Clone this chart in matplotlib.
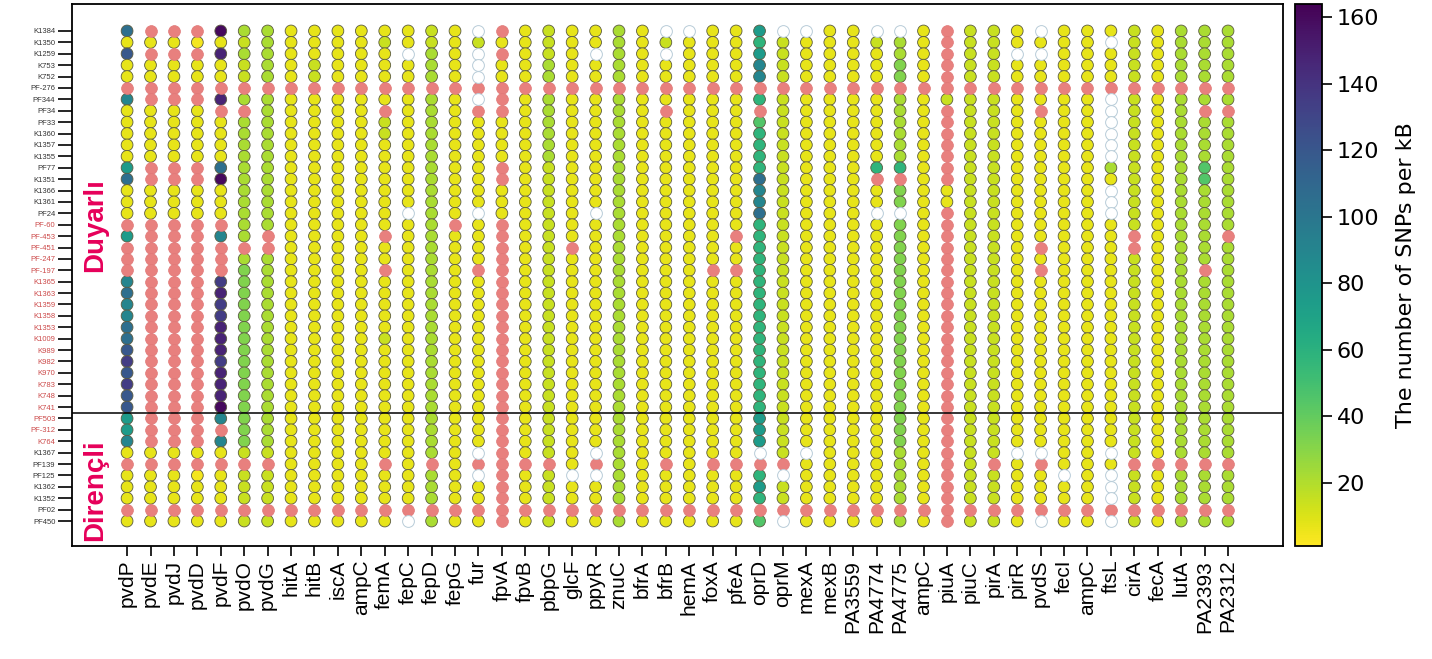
import matplotlib.pyplot as plt
import numpy as np

# strains (rows, top to bottom)
strains = ['K1384', 'K1350', 'K1259', 'K753', 'K752', 'PF-276', 'PF344', 'PF34', 'PF33',
           'K1360', 'K1357', 'K1355', 'PF77', 'K1351', 'K1366', 'K1361', 'PF24',
           'PF-60', 'PF-453', 'PF-451', 'PF-247', 'PF-197', 'K1365', 'K1363', 'K1359',
           'K1358', 'K1353', 'K1009', 'K989', 'K982', 'K970', 'K783', 'K748', 'K741',
           'PF503', 'PF-312', 'K764', 'K1367', 'PF139', 'PF125', 'K1362', 'K1352',
           'PF02', 'PF450']
# strains whose labels are drawn in red
red_strains = strains[17:37]

# genes (columns, left to right)
genes = ['pvdP', 'pvdE', 'pvdJ', 'pvdD', 'pvdF', 'pvdO', 'pvdG', 'hitA', 'hitB', 'iscA',
         'ampC', 'femA', 'fepC', 'fepD', 'fepG', 'fur', 'fpvA', 'fpvB', 'pbpG', 'glcF',
         'ppyR', 'znuC', 'bfrA', 'bfrB', 'hemA', 'foxA', 'pfeA', 'oprD', 'oprM', 'mexA',
         'mexB', 'PA3559', 'PA4774', 'PA4775', 'ampC', 'piuA', 'piuC', 'pirA', 'pirR',
         'pvdS', 'fecI', 'ampC', 'ftsL', 'cirA', 'fecA', 'lutA', 'PA2393', 'PA2312']

# SNPs per kB, one letter per strain; P = gene absent, W = no data
levels = {'a': 4, 'b': 7, 'c': 15, 'd': 22, 'e': 32, 'f': 45, 'g': 58,
          'h': 75, 'i': 90, 'j': 105, 'k': 120, 'l': 135, 'm': 148, 'n': 160}

snp_codes = [
    "jbkbb Pibbb bbhjb bbPhP PPiji ijjkl klkkh hibPb bbPb",   # pvdP
    "PbPbb PPbbb bbPPb bbPPP PPPPP PPPPP PPPPP PPbPb bbPb",   # pvdE
    "PbPbb PPbbb bbPPb bbPPP PPPPP PPPPP PPPPP PPbPb bbPb",   # pvdJ
    "PaPbb PPbbb bbPPb bbPPP PPPPP PPPPP PPPPP PPbPa bbPb",   # pvdD
    "nbmbb PmPbb bbjnb bbPiP PPlml lmmml mmmni PibPb bbPb",   # pvdF
    "dcdcc PdPdd ddddd ddddP deeee eeeee eeeee eecPc ccPc",   # pvdO
    "ddddd Pdddd ddddd dddPP ddddd ddddd ddddd ddcPc ccPc",   # pvdG
    "bbbbb Pbbbb bbbbb bbbbb bbbbb bbbbb bbbbb bbbbb bbPb",   # hitA
    "bbbcc Pbbbb bbbbb bbbbb bbbbb bbbbb bbbbb bbbbb bbPb",   # hitB
    "bbbbb Pbbbb bbbbb bbbbb bbbbb bbbbb bbbbb bbbbb bbPb",   # iscA
    "bbbbb Pbbbb bbbbb bbbbb bbbbb bbbbb bbbbb bbbbb bbPb",   # ampC
    "bcbbb PbPcc bbbbb bbbPb bPbbb bbcbb bbbbb bbbPb bbPb",   # femA
    "bbWbb Pbbbb bbbbb bWbbb bbbbb bbbbb bbbbb bbbbb bbPW",   # fepC
    "ccddd Pdddd ddddd ddddd ddddd ddddd ddddd dddPd ddPd",   # fepD
    "bbbbb Pbbbb bbbbb bbPbb bbbbb bbbbb bbbbb bbbbb bbPb",   # fepG
    "WcWWW PWPbb bbbbb bWbbb bPbbb bbbbb bbbbb bbWPW bbPb",   # fur
    "PbPbb PPPbb bbPPb bbPPP PPPPP PPPPP PPPPP PPPPP PPPP",   # fpvA
    "bbbbb Pbbbb bbbbb bbbbb bbbbb bbbbb bbbbb bbbPb bbPb",   # fpvB
    "cccdd Pdddd ddccc ccccc ccccc ccccc ccccc cccPc ccPc",   # pbpG
    "bbbbb Pbbbb bbbbb bbbbP bbbbb bbbbb bbbbb bbbbW bbPb",   # glcF
    "bbWbb Pbbbb bbbbb bWbbb bbbbb bbbbb bbbbb bbWPW bbPb",   # ppyR
    "ddddd Pdddd ddddd ddddd ddddd ddddd ddddd ddddd ddPd",   # znuC
    "bbbbb Pbbbb bbbbb bbbbb bbbbb bbbbb bbbbb bbbbb bbPb",   # bfrA
    "WcWbb PbPbb bbbbb bbbbb bbbbb bbbbb bbbbb bbbPb bbPb",   # bfrB
    "Wbbbb Pbbbb bbbbb bbbbb bbbbb bbbbb bbbbb bbbbb bbPb",   # hemA
    "bbbbb Pbbbb bbbbb bbbbb bPbbb bbbbb bbbbb bbbPb bbPb",   # foxA
    "bbbbb Pbbbb bbbbb bbbPb bPbbb bbbbb bbbbb bbbPb bbPb",   # pfeA
    "hghii PgPfg gggji ijggg ggggg ggggg ggggh hhWPg hgPf",   # oprD
    "Wcccc Pcccc ccccc ccccc ccccc ccccc ccccc cccPW ccPW",   # oprM
    "Wbbbb Pbbbb bbbbb bbbbb bbbbb bbbbb bbbbb bbWbb bbPb",   # mexA
    "bbbbb Pbbbb bbbbb bbbbb bbbbb bbbbb bbbbb bbbbb bbPb",   # mexB
    "bbbbb Pbbbb bbbbb bbbbb bbbbb bbbbb bbbbb bbbbb bbPb",   # PA3559
    "Wcbbb Pbbbb bbgPb bWbbb bbbbb bbbbb bbbbb bbbbb bbPb",   # PA4774
    "Wddee Pdddd ddgPe eWeee eeeee eeeee eeeee eeddd ddPd",   # PA4775
    "bbbbb Pbbbb bbbbb bbbbb bbbbb bbbbb bbbbb bbbbb bbPb",   # ampC
    "PPPPP PcPPP PPPPb bPPPP PPPPP PPPPP PPPPP PPPPP PPPP",   # piuA
    "ccccc Pcccc ccccc ccccc ccccc ccccc ccccc ccccc ccPc",   # piuC
    "ccccc Pcccc ccccc ccccc ccccc ccccc ccccc cccPc ccPc",   # pirA
    "bbWbb Pbbbb bbbbb bbbbb bbbbb bbbbb bbbbb bbWbb bbPb",   # pirR
    "WbWbb PbPbb bbbbb bbbbP bPbbb bbbbb bbbbb bbWPb bbPW",   # pvdS
    "bbbbb Pbbbb bbbbb bbbbb bbbbb bbbbb bbbbb bbbbW bbPb",   # fecI
    "bbbbb Pbbbb bbbbb bbbbb bbbbb bbbbb bbbbb bbbbb bbPb",   # ampC
    "bWbbb PWWWW WWdbW WWbbb bbbbb bbbbb bbbbb bbWbW WWPW",   # ftsL
    "ccccc Pcccc ccccc cccPP ccccc ccccc ccccc cccPc ccPc",   # cirA
    "bbbbb Pbbbb bbbbb bbbbb bbbbb bbbbb bbbbb bbbPb bbPb",   # fecA
    "ddddd Pdddd ddddd ddddd ddddd ddddd ddddd dddPd ddPd",   # lutA
    "ddddd PdPdd ddffd ddddd dPddd ddddd ddddd dddPd ddPd",   # PA2393
    "ddddd PdPdd ddddd dddPd ddddd ddddd ddddd dddPd ddPd",   # PA2312
]

# split the codes into measured / absent / empty cells
vx, vy, vc = [], [], []
px, py = [], []
wx, wy = [], []
for j, code in enumerate(snp_codes):
    code = code.replace(' ', '')
    assert len(code) == len(strains), (genes[j], len(code))
    for i, ch in enumerate(code):
        if ch == 'P':
            px.append(j); py.append(i)
        elif ch == 'W':
            wx.append(j); wy.append(i)
        else:
            vx.append(j); vy.append(i); vc.append(levels[ch])

fig = plt.figure(figsize=(14.32, 6.59), dpi=100)
ax = fig.add_axes([0.0503, 0.1715, 0.8457, 0.8225])
cax = fig.add_axes([0.9043, 0.1715, 0.0189, 0.8225])

ms = 72
sc = ax.scatter(vx, vy, c=vc, cmap='viridis_r', vmin=1, vmax=164, s=ms,
                edgecolors='#5a5a40', linewidths=0.6, zorder=3)
ax.scatter(px, py, s=ms, color='#e8807e', edgecolors='#e07878', linewidths=0.5, zorder=3)
ax.scatter(wx, wy, s=ms, color='white', edgecolors='#b8ccd8', linewidths=0.7, zorder=3)

# border between the two groups
ax.axhline(33.5, color='black', lw=1.1, zorder=4)

ax.set_xlim(-2.35, len(genes) - 1 + 2.35)
ax.set_ylim(len(strains) - 1 + 2.19, -2.37)

ax.set_xticks(range(len(genes)))
ax.set_xticklabels(genes, rotation=90, fontsize=15, family='Liberation Sans')
ax.set_yticks(range(len(strains)))
ax.set_yticklabels(strains, fontsize=5.5, family='Liberation Sans')
for lab in ax.get_yticklabels():
    lab.set_color('#cc4a4a' if lab.get_text() in red_strains else '#333333')
ax.tick_params(axis='x', length=7, width=1.2, pad=3)
ax.tick_params(axis='y', length=10, width=1.2, pad=2)
for sp in ax.spines.values():
    sp.set_linewidth(1.3)

ax.text(-1.37, 17.0, 'Duyarlı', rotation=90, ha='center', va='center', fontsize=20,
        fontweight='bold', color='#e6005a', family='Liberation Sans', zorder=5)
ax.text(-1.37, 40.3, 'Dirençli', rotation=90, ha='center', va='center', fontsize=20,
        fontweight='bold', color='#e6005a', family='Liberation Sans', zorder=5)

cb = fig.colorbar(sc, cax=cax)
cb.set_ticks([20, 40, 60, 80, 100, 120, 140, 160])
cb.ax.tick_params(labelsize=16, length=7, width=1.2)
cb.outline.set_linewidth(1.3)
cb.set_label('The number of SNPs per kB', fontsize=16, labelpad=12)

fig.savefig('out.png', dpi=100)
